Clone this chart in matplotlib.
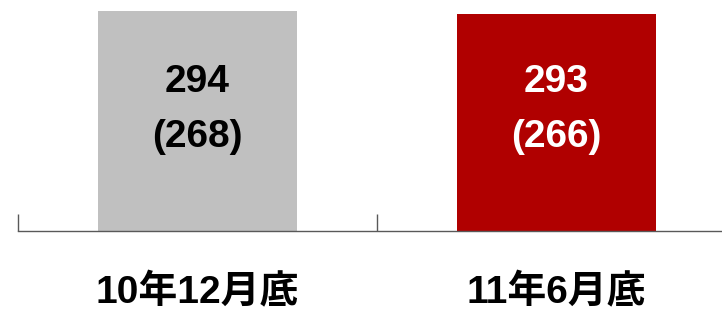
import matplotlib
matplotlib.use("Agg")
import matplotlib.pyplot as plt

# data
categories = ["10年12月底", "11年6月底"]
values = [294, 293]
sub_values = [268, 266]
bar_colors = ["#c0c0c0", "#b00000"]
text_colors = ["black", "white"]

plt.rcParams['font.family'] = ['Liberation Sans', 'Noto Sans CJK JP']

fig = plt.figure(figsize=(7.22, 3.14), dpi=100)
ax = fig.add_axes([18 / 722, 83 / 314, 718 / 722, 231 / 314])

x = list(range(len(categories)))
ax.bar(x, values, width=0.557, color=bar_colors)
ax.set_xlim(-0.5, 1.5)
ax.set_ylim(220, 297.7)

# axis styling
for side in ['left', 'right', 'top']:
    ax.spines[side].set_visible(False)
ax.spines['bottom'].set_color('#595959')
ax.spines['bottom'].set_linewidth(1)
ax.set_yticks([])
ax.set_xticks([])
ax.set_xticks([-0.5, 0.5, 1.5], minor=True)
ax.tick_params(axis='x', which='minor', direction='in', length=12.2,
               color='#595959', width=1)

# value labels inside bars
trans = ax.get_xaxis_transform()
for i in x:
    ax.text(i, 0.647, str(values[i]), transform=trans, ha='center', va='center',
            fontsize=28, fontweight='bold', color=text_colors[i])
    ax.text(i, 0.405, "(" + str(sub_values[i]) + ")", transform=trans,
            ha='center', va='center', fontsize=28, fontweight='bold',
            color=text_colors[i])
    ax.text(i, -0.268, categories[i], transform=trans, ha='center', va='center',
            fontsize=28, fontweight='bold', color='black', clip_on=False)

fig.savefig("out.png", dpi=100)
